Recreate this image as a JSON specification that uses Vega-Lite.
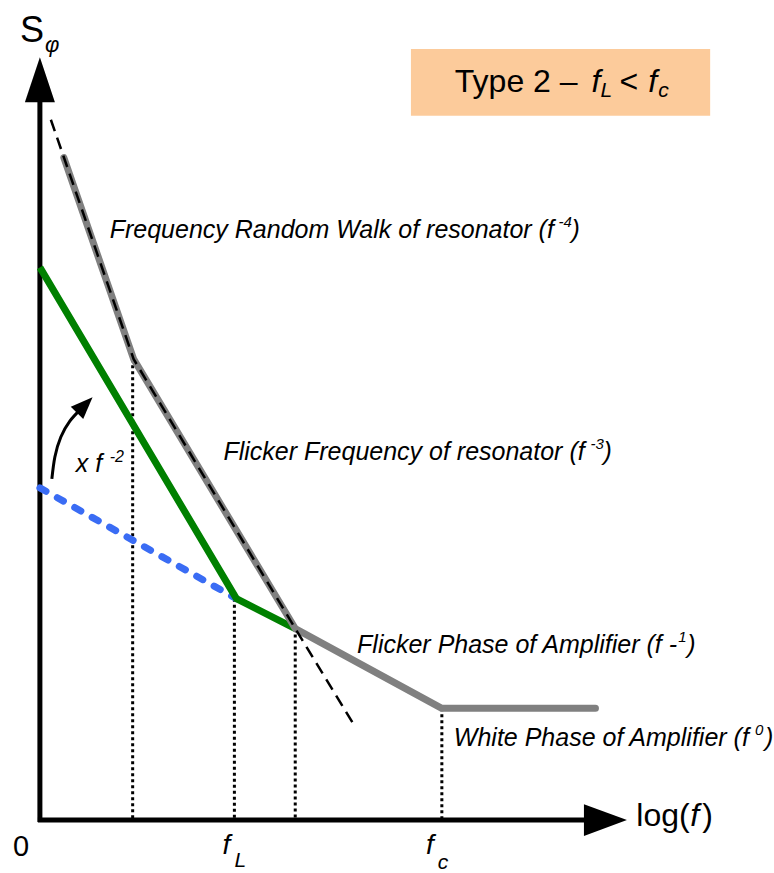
{
  "$schema": "https://vega.github.io/schema/vega-lite/v6.json",
  "width": 774,
  "height": 873,
  "autosize": {"type": "fit", "contains": "padding"},
  "padding": 0,
  "background": "white",
  "config": {
    "view": {"stroke": null},
    "text": {"font": "Liberation Sans", "color": "#000000", "align": "left", "baseline": "alphabetic"}
  },
  "datasets": {
    "box": [{"f": 372, "f2": 672, "s": 773, "s2": 706}],
    "guides": [
      {"f": 93, "s": 462},
      {"f": 195, "s": 222},
      {"f": 256, "s": 192},
      {"f": 403, "s": 112}
    ],
    "axes": [
      {"f": 0, "s": -2, "f2": 0, "s2": 722},
      {"f": -2, "s": 0, "f2": 548, "s2": 0}
    ],
    "yHead": [{"f": 0, "s": 742}],
    "xHead": [{"f": 567, "s": 0}],
    "oscillator": [
      {"i": 0, "f": 24, "s": 664},
      {"i": 1, "f": 94, "s": 462},
      {"i": 2, "f": 256, "s": 192},
      {"i": 3, "f": 403, "s": 112},
      {"i": 4, "f": 557, "s": 112}
    ],
    "asymptote": [
      {"i": 0, "f": 11, "s": 702},
      {"i": 1, "f": 94, "s": 462},
      {"i": 2, "f": 256, "s": 192},
      {"i": 3, "f": 314, "s": 97}
    ],
    "closedLoop": [
      {"i": 0, "f": 0, "s": 554},
      {"i": 1, "f": 197, "s": 222},
      {"i": 2, "f": 256, "s": 192}
    ],
    "amplifier": [
      {"i": 0, "f": 0, "s": 333},
      {"i": 1, "f": 197, "s": 222}
    ],
    "gainArc": [
      {"i": 0, "f": 12, "s": 342},
      {"i": 1, "f": 15, "s": 364},
      {"i": 2, "f": 21, "s": 384},
      {"i": 3, "f": 30, "s": 400},
      {"i": 4, "f": 41, "s": 412}
    ],
    "gainHead": [{"f": 45, "s": 416}],
    "texts": [
      {"g": "note", "f": 70, "s": 583, "t": "Frequency Random Walk of resonator (f"},
      {"g": "note", "f": 533, "s": 583, "t": ")"},
      {"g": "note", "f": 184, "s": 361, "t": "Flicker Frequency of resonator (f"},
      {"g": "note", "f": 565, "s": 361, "t": ")"},
      {"g": "note", "f": 318, "s": 168, "t": "Flicker Phase of Amplifier (f -"},
      {"g": "note", "f": 649, "s": 168, "t": ")"},
      {"g": "note", "f": 415, "s": 74, "t": "White Phase of Amplifier (f"},
      {"g": "note", "f": 727, "s": 74, "t": ")"},
      {"g": "exp", "f": 520, "s": 594, "t": "-4"},
      {"g": "exp", "f": 552, "s": 372, "t": "-3"},
      {"g": "exp", "f": 640, "s": 179, "t": "1"},
      {"g": "exp", "f": 717, "s": 85, "t": "0"},
      {"g": "title", "f": 416, "s": 730, "t": "Type 2 – "},
      {"g": "title", "f": 581, "s": 730, "t": "<"},
      {"g": "titleVar", "f": 553, "s": 730, "t": "f"},
      {"g": "titleVar", "f": 610, "s": 730, "t": "f"},
      {"g": "titleSub", "f": 562, "s": 725, "t": "L"},
      {"g": "titleSub", "f": 620, "s": 725, "t": "c"},
      {"g": "yName", "f": -20, "s": 780, "t": "S"},
      {"g": "yIndex", "f": 5, "s": 770, "t": "φ"},
      {"g": "origin", "f": -27, "s": -36, "t": "0"},
      {"g": "tick", "f": 183, "s": -34, "t": "f"},
      {"g": "tick", "f": 387, "s": -34, "t": "f"},
      {"g": "tickSub", "f": 195, "s": -47, "t": "L"},
      {"g": "tickSub", "f": 399, "s": -49, "t": "c"},
      {"g": "xName", "f": 598, "s": -6, "t": "log("},
      {"g": "xName", "f": 664, "s": -6, "t": ")"},
      {"g": "xVar", "f": 652, "s": -6, "t": "f"},
      {"g": "gain", "f": 36, "s": 349, "t": "x f"},
      {"g": "gainExp", "f": 70, "s": 359, "t": "-2"}
    ]
  },
  "encoding": {
    "x": {"field": "f", "type": "quantitative", "scale": {"domain": [-40, 734], "nice": false, "zero": false}, "axis": null},
    "y": {"field": "s", "type": "quantitative", "scale": {"domain": [-51, 822], "nice": false, "zero": false}, "axis": null}
  },
  "layer": [
    {
      "data": {"name": "box"},
      "mark": {"type": "rect", "fill": "#FCCB9B"},
      "encoding": {"x2": {"field": "f2"}, "y2": {"field": "s2"}}
    },
    {
      "data": {"name": "guides"},
      "mark": {"type": "rule", "color": "#000000", "strokeWidth": 3, "strokeDash": [3, 3]},
      "encoding": {"y2": {"datum": 0}}
    },
    {
      "data": {"name": "axes"},
      "mark": {"type": "rule", "color": "#000000", "strokeWidth": 5, "strokeCap": "butt"},
      "encoding": {"x2": {"field": "f2"}, "y2": {"field": "s2"}}
    },
    {
      "data": {"name": "yHead"},
      "mark": {"type": "point", "shape": "M0,-1L0.667,1L-0.667,1Z", "filled": true, "opacity": 1, "color": "#000000", "size": 2025}
    },
    {
      "data": {"name": "xHead"},
      "mark": {"type": "point", "shape": "M1,0L-1,-0.74L-1,0.74Z", "filled": true, "opacity": 1, "color": "#000000", "size": 1850}
    },
    {
      "data": {"name": "amplifier"},
      "mark": {"type": "line", "color": "#3A6CF4", "strokeWidth": 7, "strokeDash": [7, 13], "strokeCap": "round"},
      "encoding": {"order": {"field": "i"}}
    },
    {
      "data": {"name": "closedLoop"},
      "mark": {"type": "line", "color": "#008000", "strokeWidth": 7, "strokeJoin": "round"},
      "encoding": {"order": {"field": "i"}}
    },
    {
      "data": {"name": "oscillator"},
      "mark": {"type": "line", "color": "#808080", "strokeWidth": 7, "strokeCap": "round", "strokeJoin": "round"},
      "encoding": {"order": {"field": "i"}}
    },
    {
      "data": {"name": "asymptote"},
      "mark": {"type": "line", "color": "#000000", "strokeWidth": 2.5, "strokeDash": [12, 7]},
      "encoding": {"order": {"field": "i"}}
    },
    {
      "data": {"name": "gainArc"},
      "mark": {"type": "line", "color": "#000000", "strokeWidth": 3, "interpolate": "natural"},
      "encoding": {"order": {"field": "i"}}
    },
    {
      "data": {"name": "gainHead"},
      "mark": {"type": "point", "shape": "M0,-1L0.8,1L-0.8,1Z", "filled": true, "opacity": 1, "color": "#000000", "size": 484, "angle": 45}
    },
    {
      "data": {"name": "texts"},
      "transform": [{"filter": "datum.g === 'note'"}],
      "mark": {"type": "text", "fontSize": 25, "fontStyle": "italic"},
      "encoding": {"text": {"field": "t"}}
    },
    {
      "data": {"name": "texts"},
      "transform": [{"filter": "datum.g === 'exp'"}],
      "mark": {"type": "text", "fontSize": 15, "fontStyle": "italic"},
      "encoding": {"text": {"field": "t"}}
    },
    {
      "data": {"name": "texts"},
      "transform": [{"filter": "datum.g === 'title'"}],
      "mark": {"type": "text", "fontSize": 32},
      "encoding": {"text": {"field": "t"}}
    },
    {
      "data": {"name": "texts"},
      "transform": [{"filter": "datum.g === 'titleVar'"}],
      "mark": {"type": "text", "fontSize": 32, "fontStyle": "italic"},
      "encoding": {"text": {"field": "t"}}
    },
    {
      "data": {"name": "texts"},
      "transform": [{"filter": "datum.g === 'titleSub'"}],
      "mark": {"type": "text", "fontSize": 21, "fontStyle": "italic"},
      "encoding": {"text": {"field": "t"}}
    },
    {
      "data": {"name": "texts"},
      "transform": [{"filter": "datum.g === 'yName'"}],
      "mark": {"type": "text", "fontSize": 36},
      "encoding": {"text": {"field": "t"}}
    },
    {
      "data": {"name": "texts"},
      "transform": [{"filter": "datum.g === 'yIndex'"}],
      "mark": {"type": "text", "fontSize": 22, "fontStyle": "italic"},
      "encoding": {"text": {"field": "t"}}
    },
    {
      "data": {"name": "texts"},
      "transform": [{"filter": "datum.g === 'origin'"}],
      "mark": {"type": "text", "fontSize": 29},
      "encoding": {"text": {"field": "t"}}
    },
    {
      "data": {"name": "texts"},
      "transform": [{"filter": "datum.g === 'tick'"}],
      "mark": {"type": "text", "fontSize": 28, "fontStyle": "italic"},
      "encoding": {"text": {"field": "t"}}
    },
    {
      "data": {"name": "texts"},
      "transform": [{"filter": "datum.g === 'tickSub'"}],
      "mark": {"type": "text", "fontSize": 21, "fontStyle": "italic"},
      "encoding": {"text": {"field": "t"}}
    },
    {
      "data": {"name": "texts"},
      "transform": [{"filter": "datum.g === 'xName'"}],
      "mark": {"type": "text", "fontSize": 32},
      "encoding": {"text": {"field": "t"}}
    },
    {
      "data": {"name": "texts"},
      "transform": [{"filter": "datum.g === 'xVar'"}],
      "mark": {"type": "text", "fontSize": 32, "fontStyle": "italic"},
      "encoding": {"text": {"field": "t"}}
    },
    {
      "data": {"name": "texts"},
      "transform": [{"filter": "datum.g === 'gain'"}],
      "mark": {"type": "text", "fontSize": 25, "fontStyle": "italic"},
      "encoding": {"text": {"field": "t"}}
    },
    {
      "data": {"name": "texts"},
      "transform": [{"filter": "datum.g === 'gainExp'"}],
      "mark": {"type": "text", "fontSize": 16, "fontStyle": "italic"},
      "encoding": {"text": {"field": "t"}}
    }
  ]
}
